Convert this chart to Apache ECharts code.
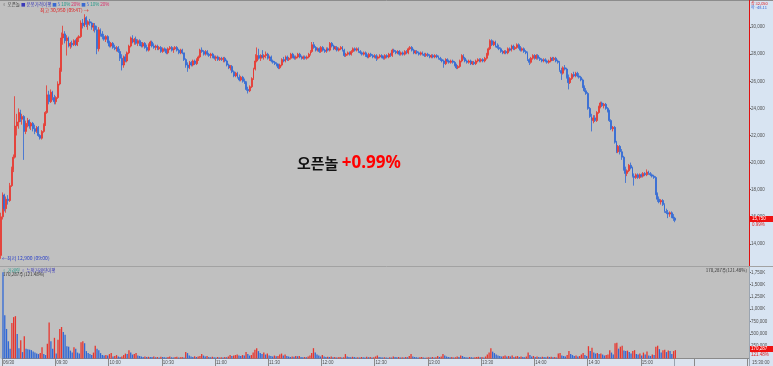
<!DOCTYPE html>
<html><head><meta charset="utf-8">
<script src="https://cdn.jsdelivr.net/npm/echarts@6/dist/echarts.min.js"></script>
<style>html,body{margin:0;padding:0;background:#c0c0c0;overflow:hidden}#c{width:773px;height:366px}</style>
</head><body><div id="c"></div>
<script>
// ---- data ----
const xTickLabels = ['06/30','09:30','10:00','10:30','11:00','11:30','12:00','12:30','13:00','13:30','14:00','14:30','15:00'];
const minutesPerTick = 30;
const slotCount = 421;
const priceTicks = { min: 12000, max: 32000, interval: 2000 };
const volumeTicks = { min: 0, max: 2000000, interval: 250000 };
// [open, close, low, high] per minute, 09:00 ..
const candles = [
[13150,16000,12900,16300],[16000,17600,15800,17800],[17600,16600,16400,17700],[16600,17300,16300,17500],[17300,17200,16900,17600],
[17200,18300,17100,18500],[18300,19500,18200,19700],[19500,20400,19300,20600],[20400,22700,20300,24900],[22700,23000,22000,23600],
[23000,23700,22500,24000],[23700,23200,23000,23900],[23200,23400,22800,23600],[23400,22300,20200,23500],[22300,22900,22100,23100],
[22900,23100,22600,23300],[23100,22700,22500,23200],[22700,22900,22400,23000],[22900,22500,22300,23000],[22500,22300,22100,22800],
[22300,22600,22200,22700],[22600,22000,21900,22700],[22000,21800,21700,22100],[21800,22300,21700,22400],[22300,22800,22200,22900],
[22800,23700,22700,23800],[23700,25000,23600,25700],[25000,24500,24300,25300],[24500,25200,24400,25400],[25200,24800,24600,25300],
[24800,24500,24300,25000],[24500,24800,24300,24900],[24800,25800,24700,26000],[25800,26800,25700,27000],[26800,29200,26700,29600],
[29200,29500,28700,30100],[29500,29000,28800,29700],[29000,29200,27900,29400],[29200,28600,28500,29300],[28600,28800,28400,28900],
[28800,28700,28500,29000],[28700,29000,28600,29100],[29000,28700,28600,29100],[28700,29200,28600,29300],[29200,29300,28900,29400],
[29300,30300,29200,30500],[30300,30100,29900,30600],[30100,30700,30000,30950],[30700,30200,30000,30800],[30200,30400,29800,30500],
[30400,30300,30100,30600],[30300,30000,29800,30400],[30000,30100,29700,30300],[30100,29800,29600,30300],[29800,28400,28000,30100],
[28400,29800,28200,30000],[29800,29500,29300,29900],[29500,29300,29100,29700],[29300,29100,29000,29500],[29100,29300,28900,29400],
[29300,28900,28800,29400],[28900,28600,28500,29000],[28600,28800,28500,28900],[28800,28500,28400,28900],[28500,28400,28300,28700],
[28400,28500,28200,28600],[28500,28200,28100,28600],[28200,27700,27500,28400],[27700,27200,26800,28000],[27200,27800,27000,27900],
[27800,27500,27400,28000],[27500,28100,27400,28200],[28100,28600,28000,28700],[28600,29200,28500,29300],[29200,28900,28800,29400],
[28900,29100,28700,29200],[29100,28800,28700,29300],[28800,29000,28600,29100],[29000,28700,28600,29100],[28700,28600,28500,28900],
[28600,28800,28500,28900],[28800,28500,28400,28900],[28500,28300,28200,28700],[28300,28700,28200,28800],[28700,28900,28600,29000],
[28900,28600,28500,29000],[28600,28500,28400,28800],[28500,28600,28300,28700],[28600,28400,28300,28700],[28400,28500,28300,28600],
[28500,28200,28100,28600],[28200,28400,28100,28500],[28400,28300,28200,28500],[28300,28100,28000,28400],[28100,28400,28000,28500],
[28400,28500,28300,28600],[28500,28300,28200,28600],[28300,28400,28100,28500],[28400,28500,28300,28600],[28500,28300,28200,28600],
[28300,28100,28000,28400],[28100,28300,28000,28400],[28300,28100,28000,28400],[28100,27600,27500,28100],[27600,27200,27000,27700],
[27200,27000,26700,27400],[27000,27400,26900,27500],[27400,27200,27100,27500],[27200,27500,27100,27600],[27500,27300,27200,27600],
[27300,27600,27200,27700],[27600,27800,27500,27900],[27800,28300,27700,28400],[28300,28200,28100,28500],[28200,28000,27900,28300],
[28000,28200,27900,28300],[28200,28000,27900,28300],[28000,27900,27800,28100],[27900,28000,27700,28100],[28000,27800,27700,28100],
[27800,27700,27600,27900],[27700,27800,27500,27900],[27800,27600,27500,27900],[27600,27700,27500,27800],[27700,27600,27500,27800],
[27600,27700,27400,27800],[27700,27500,27400,27800],[27500,27200,27100,27600],[27200,27000,26900,27300],[27000,27100,26800,27200],
[27100,26700,26600,27200],[26700,26400,26300,26800],[26400,26600,26300,26700],[26600,26300,26200,26700],[26300,26100,26000,26500],
[26100,26300,26000,26400],[26300,26000,25900,26400],[26000,25900,25800,26200],[25900,25400,25300,26000],[25400,25300,25100,25600],
[25300,25600,25200,25700],[25600,26200,25500,26300],[26200,26900,26100,27000],[26900,27500,26800,28000],[27500,27900,27400,28500],
[27900,27700,27600,28400],[27700,27900,27500,28000],[27900,27800,27700,28300],[27800,27900,27600,28000],[27900,28000,27700,28200],
[28000,27700,27600,28100],[27700,27800,27500,27900],[27800,27500,27400,27900],[27500,27400,27300,27600],[27400,27300,27200,27500],
[27300,27200,27100,27400],[27200,27000,26900,27300],[27000,27200,26900,27300],[27200,27600,27100,27700],[27600,27500,27400,27800],
[27500,27800,27400,27900],[27800,27600,27500,27900],[27600,27700,27500,27800],[27700,28000,27600,28100],[28000,27800,27700,28100],
[27800,27700,27600,27900],[27700,27800,27600,27900],[27800,28000,27700,28100],[28000,27800,27700,28100],[27800,27700,27600,27900],
[27700,27800,27600,27900],[27800,27700,27600,27900],[27700,27800,27600,27900],[27800,28000,27700,28100],[28000,28200,27900,28300],
[28200,28700,28100,28900],[28700,28500,28400,28900],[28500,28300,28200,28600],[28300,28400,28200,28500],[28400,28200,28100,28500],
[28200,28500,28100,28600],[28500,28300,28200,28600],[28300,28200,28100,28400],[28200,28400,28100,28500],[28400,28300,28200,28500],
[28300,28800,28200,28900],[28800,28600,28500,28900],[28600,28400,28300,28700],[28400,28500,28300,28600],[28500,28300,28200,28600],
[28300,28400,28200,28500],[28400,28500,28300,28600],[28500,28300,28200,28600],[28300,27900,27800,28400],[27900,28000,27800,28100],
[28000,28100,27900,28200],[28100,28000,27900,28200],[28000,28200,27900,28300],[28200,28400,28100,28500],[28400,28300,28200,28500],
[28300,28400,28200,28500],[28400,28200,28100,28500],[28200,28100,28000,28300],[28100,28000,27900,28200],[28000,28100,27900,28200],
[28100,27900,27800,28200],[27900,27800,27700,28000],[27800,28000,27700,28100],[28000,27900,27800,28100],[27900,27800,27700,28000],
[27800,27900,27700,28000],[27900,27700,27500,28000],[27700,27800,27600,27900],[27800,27900,27700,28000],[27900,27800,27700,28000],
[27800,27700,27600,27900],[27700,27900,27600,28000],[27900,27800,27700,28000],[27800,28000,27700,28100],[28000,27900,27800,28100],
[27900,28300,27800,28400],[28300,28200,28100,28400],[28200,28100,28000,28300],[28100,28200,28000,28300],[28200,28000,27900,28300],
[28000,28100,27900,28200],[28100,28000,27900,28200],[28000,28200,27900,28300],[28200,28100,28000,28300],[28100,28400,28000,28500],
[28400,28500,28300,28600],[28500,28300,28200,28600],[28300,28100,28000,28400],[28100,28200,28000,28300],[28200,28100,28000,28300],
[28100,28000,27900,28200],[28000,28100,27900,28200],[28100,28000,27900,28200],[28000,27900,27800,28100],[27900,28000,27800,28100],
[28000,27900,27800,28100],[27900,27800,27700,28000],[27800,27900,27700,28000],[27900,27800,27700,28000],[27800,27900,27700,28000],
[27900,27800,27700,28000],[27800,27700,27600,27900],[27700,27600,27500,27800],[27600,27500,27400,27700],[27500,27300,27000,27600],
[27300,27600,27200,27700],[27600,27500,27400,27700],[27500,27400,27300,27600],[27400,27500,27300,27600],[27500,27400,27300,27600],
[27400,27200,27100,27500],[27200,27000,26900,27300],[27000,27100,26900,27200],[27100,27500,27000,27600],[27500,27900,27400,28000],
[27900,27700,27600,28000],[27700,27500,27400,27800],[27500,27400,27300,27600],[27400,27500,27300,27600],[27500,27300,27200,27600],
[27300,27400,27200,27500],[27400,27300,27200,27500],[27300,27500,27200,27600],[27500,27600,27400,27700],[27600,27500,27400,27700],
[27500,27600,27400,27700],[27600,27500,27400,27700],[27500,27700,27400,27800],[27700,28000,27600,28100],[28000,28400,27900,28500],
[28400,29000,28300,29100],[29000,28700,28600,29100],[28700,28900,28600,29000],[28900,28600,28500,29000],[28600,28500,28400,28800],
[28500,28400,28300,28700],[28400,28200,28100,28500],[28200,28100,28000,28300],[28100,28200,28000,28300],[28200,28100,28000,28300],
[28100,28400,28000,28500],[28400,28300,28200,28500],[28300,28600,28200,28700],[28600,28400,28300,28700],[28400,28500,28300,28600],
[28500,28700,28400,28800],[28700,28500,28400,28800],[28500,28300,28200,28600],[28300,28400,28200,28500],[28400,28200,28100,28500],
[28200,28100,28000,28300],[28100,27600,27500,28200],[27600,27400,27200,27700],[27400,27700,27300,27800],[27700,27900,27600,28000],
[27900,27700,27600,28000],[27700,27900,27600,28000],[27900,27700,27600,28000],[27700,27600,27500,27800],[27600,27500,27400,27700],
[27500,27600,27400,27700],[27600,27500,27400,27700],[27500,27400,27300,27600],[27400,27500,27300,27600],[27500,27700,27400,27800],
[27700,27600,27500,27800],[27600,27700,27500,27800],[27700,27500,27400,27800],[27500,27400,27300,27600],[27400,26800,26700,27500],
[26800,26600,26100,27000],[26600,27000,26500,27100],[27000,26900,26800,27200],[26900,26300,26200,27000],[26300,25900,25400,26500],
[25900,26200,25800,26300],[26200,26500,26100,26600],[26500,26400,26300,26700],[26400,26600,26300,26700],[26600,26400,26300,26700],
[26400,26300,26200,26600],[26300,26100,26000,26400],[26100,25600,25500,26200],[25600,25300,25200,25700],[25300,25100,25000,25500],
[25100,24000,23900,25200],[24000,23400,23300,24100],[23400,23100,22300,23600],[23100,23300,22900,23500],[23300,23100,23000,23500],
[23100,23700,23000,23800],[23700,24100,23600,24200],[24100,24400,24000,24500],[24400,24200,24100,24500],[24200,24300,24000,24400],
[24300,24000,23900,24400],[24000,23800,23700,24100],[23800,23100,23000,23900],[23100,22500,22400,23200],[22500,22600,22300,22700],
[22600,21500,21400,22700],[21500,20800,20700,21600],[20800,21200,20700,21300],[21200,20800,20600,21300],[20800,20400,20200,21000],
[20400,19500,19400,20500],[19500,19200,18500,19700],[19200,19400,19000,19500],[19400,19800,19300,19900],[19800,19600,19500,20000],
[19600,19000,18900,19700],[19000,18900,18300,19200],[18900,19100,18800,19200],[19100,18900,18800,19200],[18900,19100,18800,19200],
[19100,19000,18900,19200],[19000,19200,18900,19300],[19200,19100,19000,19300],[19100,19300,19000,19500],[19300,19200,19100,19400],
[19200,19100,19000,19300],[19100,19000,18900,19200],[19000,18900,18800,19100],[18900,17700,17600,19000],[17700,17300,17100,17800],
[17300,17100,17000,17500],[17100,17200,16900,17300],[17200,16900,16800,17300],[16900,16400,16300,17000],[16400,16300,16200,16600],
[16300,16200,15900,16500],[16200,16300,16000,16400],[16300,16000,15900,16400],[16000,15900,15700,16200],[15900,15750,15600,16000]
];
const volumes = [
1750000,880000,600000,350000,200000,720000,840000,860000,500000,210000,
370000,130000,450000,200000,190000,180000,170000,140000,120000,100000,
90000,110000,230000,90000,70000,300000,730000,350000,200000,420000,
100000,380000,600000,640000,540000,480000,250000,240000,160000,120000,
230000,200000,120000,100000,330000,350000,310000,150000,110000,90000,
70000,120000,260000,200000,170000,110000,70000,60000,70000,60000,
90000,110000,40000,50000,70000,40000,30000,40000,70000,100000,
90000,170000,120000,80000,90000,110000,60000,50000,40000,30000,
40000,30000,35000,30000,30000,40000,25000,30000,20000,35000,
30000,25000,20000,30000,40000,25000,20000,30000,35000,20000,
25000,30000,20000,130000,110000,60000,40000,30000,45000,30000,
40000,50000,90000,60000,40000,50000,30000,25000,35000,25000,
20000,30000,20000,25000,20000,30000,25000,40000,70000,50000,
60000,70000,80000,60000,50000,70000,60000,130000,90000,60000,
70000,120000,180000,210000,150000,110000,90000,120000,80000,100000,
60000,50000,40000,60000,45000,50000,80000,100000,60000,80000,
50000,40000,30000,40000,35000,50000,45000,50000,30000,25000,
30000,25000,40000,60000,110000,210000,120000,80000,60000,40000,
70000,40000,30000,35000,30000,40000,25000,30000,20000,25000,
30000,20000,25000,90000,40000,30000,25000,35000,30000,20000,
25000,20000,30000,25000,20000,35000,25000,30000,20000,25000,
40000,60000,30000,25000,20000,25000,20000,15000,25000,20000,
40000,30000,25000,30000,20000,25000,20000,30000,25000,50000,
90000,40000,30000,25000,20000,25000,30000,20000,15000,20000,
25000,20000,30000,20000,25000,50000,30000,40000,90000,60000,
40000,30000,25000,30000,20000,25000,40000,30000,60000,50000,
30000,25000,20000,30000,25000,20000,25000,30000,35000,25000,
30000,20000,40000,80000,120000,210000,140000,110000,80000,60000,
50000,40000,45000,60000,40000,50000,40000,60000,30000,40000,
50000,30000,40000,30000,25000,40000,120000,70000,40000,50000,
30000,40000,30000,25000,35000,30000,25000,40000,30000,35000,
25000,30000,20000,100000,110000,60000,50000,40000,70000,150000,
90000,70000,50000,60000,40000,50000,80000,110000,70000,50000,
250000,150000,220000,120000,100000,110000,90000,100000,80000,60000,
70000,80000,170000,120000,80000,310000,320000,200000,240000,260000,
160000,150000,160000,130000,100000,150000,170000,90000,80000,100000,
60000,120000,80000,140000,60000,50000,80000,70000,240000,260000,
190000,120000,170000,180000,130000,160000,150000,90000,150000,170000
];

// ---- chart ----
const UP = '#e8362e', DOWN = '#3068d6';
const categories = Array.from({length: slotCount}, (_, i) => String(i));
const fmt = v => String(v).replace(/\B(?=(\d{3})+(?!\d))/g, ',');
const isTick = i => i % minutesPerTick === 0;
const volData = volumes.map((v, i) => ({
  value: v,
  itemStyle: { color: (i > 0 && v > volumes[i - 1]) ? UP : DOWN }
}));
const NUM = '"Liberation Sans", Arial, sans-serif';
const KR = '"Noto Sans CJK KR", sans-serif';
const axisLabelStyle = { fontSize: 4.5, color: '#505050', fontFamily: NUM };

const chart = echarts.init(document.getElementById('c'), null, { renderer: 'canvas' });
chart.setOption({
  animation: false,
  backgroundColor: '#c0c0c0',
  grid: [
    { left: 0, right: 24, top: -7, height: 278 },
    { left: 0, right: 24, top: 260, height: 98.5 }
  ],
  xAxis: [
    { type: 'category', gridIndex: 0, data: categories, boundaryGap: true, show: false },
    { type: 'category', gridIndex: 1, data: categories, boundaryGap: true,
      axisLine: { show: true, lineStyle: { color: '#8a8a8a', width: 1 } },
      axisTick: { show: true, interval: (i) => isTick(i), length: 8, lineStyle: { color: '#8a8a8a' } },
      axisLabel: { show: true, interval: (i) => isTick(i), margin: 2, align: 'left',
        formatter: (v, i) => xTickLabels[i / minutesPerTick] || '', ...axisLabelStyle },
      splitLine: { show: false } }
  ],
  yAxis: [
    { type: 'value', gridIndex: 0, position: 'right', min: priceTicks.min, max: priceTicks.max, interval: priceTicks.interval,
      axisLine: { show: false }, splitLine: { show: false },
      axisTick: { show: true, length: 2, lineStyle: { color: '#666' } },
      axisLabel: { margin: 2, showMinLabel: false, showMaxLabel: false, formatter: v => fmt(v), ...axisLabelStyle } },
    { type: 'value', gridIndex: 1, position: 'right', min: volumeTicks.min, max: volumeTicks.max, interval: volumeTicks.interval,
      axisLine: { show: false }, splitLine: { show: false },
      axisTick: { show: true, length: 2, lineStyle: { color: '#666' } },
      axisLabel: { margin: 2, showMinLabel: false, showMaxLabel: false,
        formatter: v => v >= 1000000 ? fmt(v / 1000) + 'K' : fmt(v), ...axisLabelStyle } }
  ],
  series: [
    { type: 'candlestick', xAxisIndex: 0, yAxisIndex: 0, data: candles, barWidth: 1.4,
      itemStyle: { color: UP, color0: DOWN, borderColor: UP, borderColor0: DOWN, borderWidth: 0.8 } },
    { type: 'bar', xAxisIndex: 1, yAxisIndex: 1, data: volData, barWidth: 1.3 }
  ],
  graphic: [
    { type: 'rect', z: -5, shape: { x: 749, y: 0, width: 24, height: 366 }, style: { fill: '#d8e4f2' } },
    { type: 'rect', z: -5, shape: { x: 0, y: 358.5, width: 749, height: 8 }, style: { fill: '#dbe3ee' } },
    { type: 'line', z: 50, shape: { x1: 0, y1: 0.5, x2: 773, y2: 0.5 }, style: { stroke: '#8c8c8c', lineWidth: 1 } },
    { type: 'line', z: 50, shape: { x1: 0, y1: 266.5, x2: 773, y2: 266.5 }, style: { stroke: '#a2a2a2', lineWidth: 1 } },
    { type: 'line', z: 50, shape: { x1: 749.5, y1: 0, x2: 749.5, y2: 266 }, style: { stroke: '#e01010', lineWidth: 1 } },
    { type: 'line', z: 50, shape: { x1: 749.5, y1: 267, x2: 749.5, y2: 366 }, style: { stroke: '#9aa4b0', lineWidth: 1 } },
    { type: 'line', z: 50, shape: { x1: 674.5, y1: 359, x2: 674.5, y2: 366 }, style: { stroke: '#9aa4b0', lineWidth: 1 } },
    // top legend
    { type: 'text', z: 60, style: { x: 2, y: 2, text: '{a|▫ 오픈놀} {b|■ 분봉가격이평} {c|■ 5} {d|10%} {e|20%} {c|■ 5} {d|10%} {e|20%}',
      fontSize: 4.5, fontFamily: KR, rich: {
        a: { fill: '#333', fontSize: 4.5, fontFamily: KR }, b: { fill: '#3a3ab8', fontSize: 4.5, fontFamily: KR },
        c: { fill: '#3a6ad0', fontSize: 4.5, fontFamily: KR }, d: { fill: '#2a9a8a', fontSize: 4.5, fontFamily: NUM },
        e: { fill: '#d8306a', fontSize: 4.5, fontFamily: NUM } } } },
    { type: 'text', z: 60, style: { x: 40, y: 8, text: '최고 30,950 (09:47) →', fill: '#e02020', fontSize: 5, fontFamily: KR } },
    { type: 'text', z: 60, style: { x: 2, y: 256, text: '←최저 12,900 (09:00)', fill: '#2a40c8', fontSize: 5, fontFamily: KR } },
    // volume legend
    { type: 'text', z: 60, style: { x: 2, y: 268, text: '{a|▫ 거래량} {b|▫ 누적거래량이평}', fontSize: 4.5, fontFamily: KR,
      rich: { a: { fill: '#2a9a8a', fontSize: 4.5, fontFamily: KR }, b: { fill: '#3a3ab8', fontSize: 4.5, fontFamily: KR } } } },
    { type: 'text', z: 60, style: { x: 3, y: 272.5, text: '170,287주(121.48%)', fill: '#333', fontSize: 4.5, fontFamily: KR } },
    { type: 'text', z: 60, style: { x: 747, y: 268, text: '170,287주(121.48%)', fill: '#333', fontSize: 4.5, fontFamily: KR, align: 'right' } },
    // right axis extras
    { type: 'text', z: 60, style: { x: 751, y: 1.5, text: '상 32,050', fill: '#e02020', fontSize: 4, fontFamily: KR } },
    { type: 'text', z: 60, style: { x: 751, y: 5.5, text: '하 -48.11', fill: '#3060d0', fontSize: 4, fontFamily: KR } },
    { type: 'rect', z: 60, shape: { x: 750, y: 216, width: 23, height: 6 }, style: { fill: '#ee1111' } },
    { type: 'text', z: 61, style: { x: 752, y: 216.5, text: '15,750', fill: '#ffffff', fontSize: 4.5, fontFamily: NUM } },
    { type: 'text', z: 61, style: { x: 752, y: 222.5, text: '0.99%', fill: '#e02020', fontSize: 4.5, fontFamily: NUM } },
    { type: 'rect', z: 60, shape: { x: 750, y: 346, width: 23, height: 6 }, style: { fill: '#ee1111' } },
    { type: 'text', z: 61, style: { x: 751, y: 346.5, text: '170,287', fill: '#ffffff', fontSize: 4.5, fontFamily: NUM } },
    { type: 'text', z: 61, style: { x: 751, y: 352.5, text: '121.48%', fill: '#e02020', fontSize: 4.5, fontFamily: NUM } },
    { type: 'text', z: 61, style: { x: 752, y: 360.5, text: '15:30:00', fill: '#505050', fontSize: 4.5, fontFamily: NUM } },
    // overlay caption
    { type: 'text', z: 70, style: { x: 297, y: 163, verticalAlign: 'middle', text: '{k|오픈놀} {r|+0.99%}',
      rich: { k: { fontSize: 15, fontWeight: 'bold', fill: '#111111', fontFamily: KR },
              r: { fontSize: 17, fontWeight: 'bold', fill: '#ff0000', fontFamily: '"Noto Sans", sans-serif' } } } }
  ]
});
</script>
</body></html>
